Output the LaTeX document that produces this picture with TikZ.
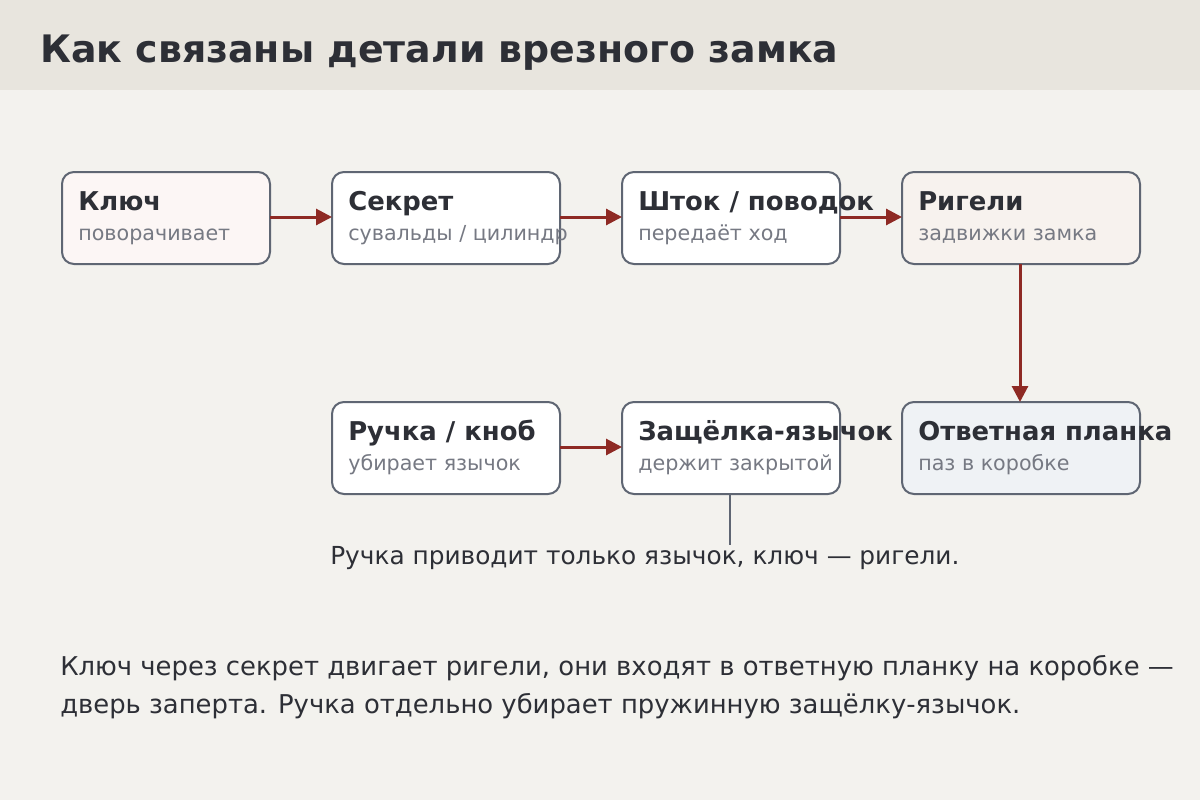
\documentclass[tikz,border=0pt]{standalone}
\usepackage{fontspec}
\setmainfont{DejaVu Sans}
\usetikzlibrary{arrows.meta}
\definecolor{bg}{HTML}{F3F2EE}
\definecolor{hdr}{HTML}{E8E5DE}
\definecolor{ink}{HTML}{2D2F36}
\definecolor{sub}{HTML}{767983}
\definecolor{edge}{HTML}{5F6673}
\definecolor{arr}{HTML}{8E2A24}
\definecolor{fa}{HTML}{FCF6F5}
\definecolor{fb}{HTML}{F7F2EE}
\definecolor{fc}{HTML}{EFF2F5}
\begin{document}
\begin{tikzpicture}[x=0.75pt,y=-0.75pt,
  box/.style={draw=edge,line width=1.5pt,rounded corners=9pt,fill=white},
  ttl/.style={anchor=base west,inner sep=0,text=ink,font=\bfseries\fontsize{19.4}{22}\selectfont},
  sb/.style={anchor=base west,inner sep=0,text=sub,font=\fontsize{15.5}{18}\selectfont},
  ar/.style={draw=arr,line width=2.25pt,-{Triangle[length=12pt,width=12pt]}}]
\useasboundingbox (0,0) rectangle (1200,800);
\fill[bg] (0,0) rectangle (1200,800);
\fill[hdr] (0,0) rectangle (1200,90);
\node[anchor=base west,inner sep=0,text=ink,font=\bfseries\fontsize{28.4}{30}\selectfont] (title) at (40,62) {Как связаны детали врезного замка};
% boxes
\path[box,fill=fa] (62,172) rectangle (270,264);
\path[box] (332,172) rectangle (560,264);
\path[box] (622,172) rectangle (840,264);
\path[box,fill=fb] (902,172) rectangle (1140,264);
\path[box] (332,402) rectangle (560,494);
\path[box] (622,402) rectangle (840,494);
\path[box,fill=fc] (902,402) rectangle (1140,494);
\node[ttl] (t1) at (78,210) {Ключ}; \node[sb] (s1) at (78,240) {поворачивает};
\node[ttl] (t2) at (348,210) {Секрет}; \node[sb] (s2) at (348,240) {сувальды / цилиндр};
\node[ttl] (t3) at (638,210) {Шток / поводок}; \node[sb] (s3) at (638,240) {передаёт ход};
\node[ttl] (t4) at (918,210) {Ригели}; \node[sb] (s4) at (918,240) {задвижки замка};
\node[ttl] (t5) at (348,440) {Ручка / кноб}; \node[sb] (s5) at (348,470) {убирает язычок};
\node[ttl] (t6) at (638,440) {Защёлка-язычок}; \node[sb] (s6) at (638,470) {держит закрытой};
\node[ttl] (t7) at (918,440) {Ответная планка}; \node[sb] (s7) at (918,470) {паз в коробке};
\coordinate (a1) at (270,217); \coordinate (b1) at (332,217);
\coordinate (a2) at (560,217); \coordinate (b2) at (622,217);
\coordinate (a3) at (840,217); \coordinate (b3) at (902,217);
\coordinate (a4) at (1020,264); \coordinate (b4) at (1020,402);
\coordinate (a5) at (560,447); \coordinate (b5) at (622,447);
\draw[ar] (a1)--(b1); \draw[ar] (a2)--(b2); \draw[ar] (a3)--(b3);
\draw[ar] (a4)--(b4); \draw[ar] (a5)--(b5);
\coordinate (n1) at (730,494); \coordinate (n2) at (730,545);
\draw[edge,line width=1.5pt] (n1)--(n2);
\node[anchor=base west,inner sep=0,text=ink,font=\fontsize{18.6}{20}\selectfont] (note) at (330,564) {Ручка приводит только язычок, ключ — ригели.};
\node[anchor=base west,inner sep=0,text=ink,font=\fontsize{19.4}{20}\selectfont] (p1) at (60,675) {Ключ через секрет двигает ригели, они входят в ответную планку на коробке —};
\node[anchor=base west,inner sep=0,text=ink,font=\fontsize{19.4}{20}\selectfont] (p2) at (60,713) {дверь заперта. Ручка отдельно убирает пружинную защёлку-язычок.};
\end{tikzpicture}
\end{document}
